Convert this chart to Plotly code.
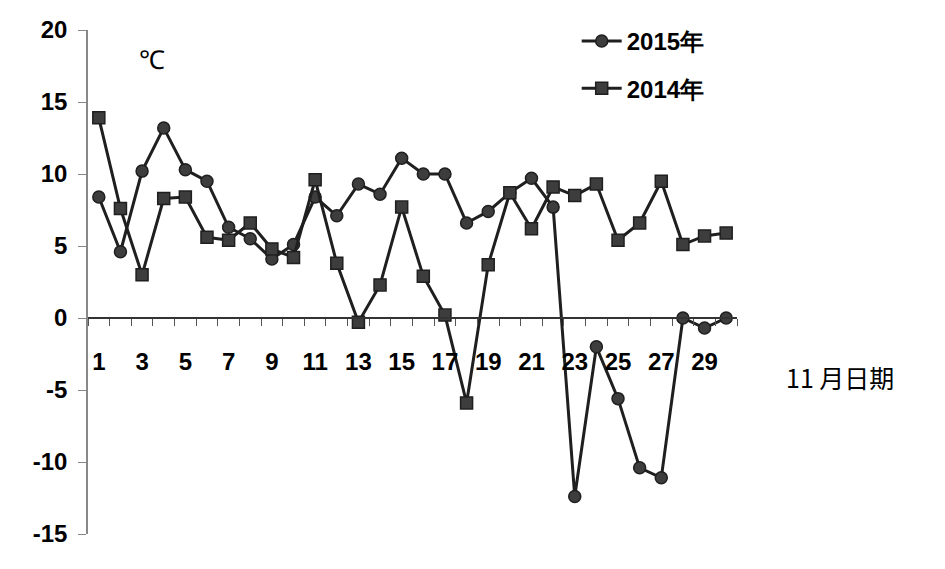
import plotly.graph_objects as go

days = list(range(1, 31))
temp_2015 = [8.4, 4.6, 10.2, 13.2, 10.3, 9.5, 6.3, 5.5, 4.1, 5.1,
             8.4, 7.1, 9.3, 8.6, 11.1, 10.0, 10.0, 6.6, 7.4, 8.7,
             9.7, 7.7, -12.4, -2.0, -5.6, -10.4, -11.1, 0.0, -0.7, 0.0]
temp_2014 = [13.9, 7.6, 3.0, 8.3, 8.4, 5.6, 5.4, 6.6, 4.8, 4.2,
             9.6, 3.8, -0.3, 2.3, 7.7, 2.9, 0.2, -5.9, 3.7, 8.7,
             6.2, 9.1, 8.5, 9.3, 5.4, 6.6, 9.5, 5.1, 5.7, 5.9]
x_tick_vals = list(range(1, 31, 2))
x_tick_text = [str(v) for v in x_tick_vals]
y_tick_vals = [20, 15, 10, 5, 0, -5, -10, -15]
y_tick_text = [str(v) for v in y_tick_vals]
series_names = ["2015年", "2014年"]
unit_label = "℃"
x_title = "11 月日期"

LINE = "#1f1f1f"
FILL = "#3d3d3d"
FONT = "Liberation Sans"

fig = go.Figure()
fig.add_trace(go.Scatter(
    x=days, y=temp_2015, name=series_names[0], mode="lines+markers",
    legendgroup="a",
    line=dict(color=LINE, width=3),
    marker=dict(symbol="circle", size=12, color=FILL, line=dict(color=LINE, width=1.5)),
))
fig.add_trace(go.Scatter(
    x=days, y=temp_2014, name=series_names[1], mode="lines+markers",
    legendgroup="b",
    line=dict(color=LINE, width=3),
    marker=dict(symbol="square", size=12, color=FILL, line=dict(color=LINE, width=1.5)),
))

ymin, ymax = -15, 20
fig.update_layout(
    width=945, height=569,
    margin=dict(l=88, r=208, t=30, b=35, autoexpand=False),
    plot_bgcolor="white", paper_bgcolor="white",
    font=dict(family=FONT, color="black"),
    showlegend=True,
    legend=dict(
        x=0.753, y=1.022, xanchor="left", yanchor="top",
        font=dict(family=FONT, size=24, color="black", weight="bold"),
        tracegroupgap=13, itemwidth=40, bgcolor="rgba(0,0,0,0)",
    ),
    xaxis=dict(
        range=[0.5, 30.5], tickmode="array", tickvals=x_tick_vals, ticktext=x_tick_text,
        ticks="", showgrid=False, zeroline=False,
        showline=True, linecolor="#333333", linewidth=1.5,
        anchor="free", position=(0 - ymin) / (ymax - ymin),
        tickfont=dict(family=FONT, size=24, color="black", weight="bold"),
        ticklabelstandoff=22,
        minor=dict(tickmode="linear", tick0=0.5, dtick=1, ticks="outside",
                   ticklen=7, tickcolor="#555555", tickwidth=1.2, showgrid=False),
    ),
    yaxis=dict(
        range=[ymin, ymax], tickmode="array", tickvals=y_tick_vals, ticktext=y_tick_text,
        ticks="outside", ticklen=8, tickcolor="#888888", tickwidth=1.2,
        showgrid=False, zeroline=False,
        showline=True, linecolor="#888888", linewidth=1.5,
        tickfont=dict(family=FONT, size=24, color="black", weight="bold"),
        ticklabelstandoff=6,
    ),
    annotations=[
        dict(text=unit_label, xref="paper", yref="paper", x=0.0986, y=0.94,
             xanchor="center", yanchor="middle",
             showarrow=False, font=dict(family=FONT, size=26, color="black")),
        dict(text=x_title, xref="paper", yref="paper", x=1.158, y=0.3115,
             xanchor="center", yanchor="middle",
             showarrow=False, font=dict(family="Noto Sans CJK SC", size=25, color="black")),
    ],
)

fig.write_html("out.html", config={"displayModeBar": False},
               post_script="document.body.style.margin='0';")
